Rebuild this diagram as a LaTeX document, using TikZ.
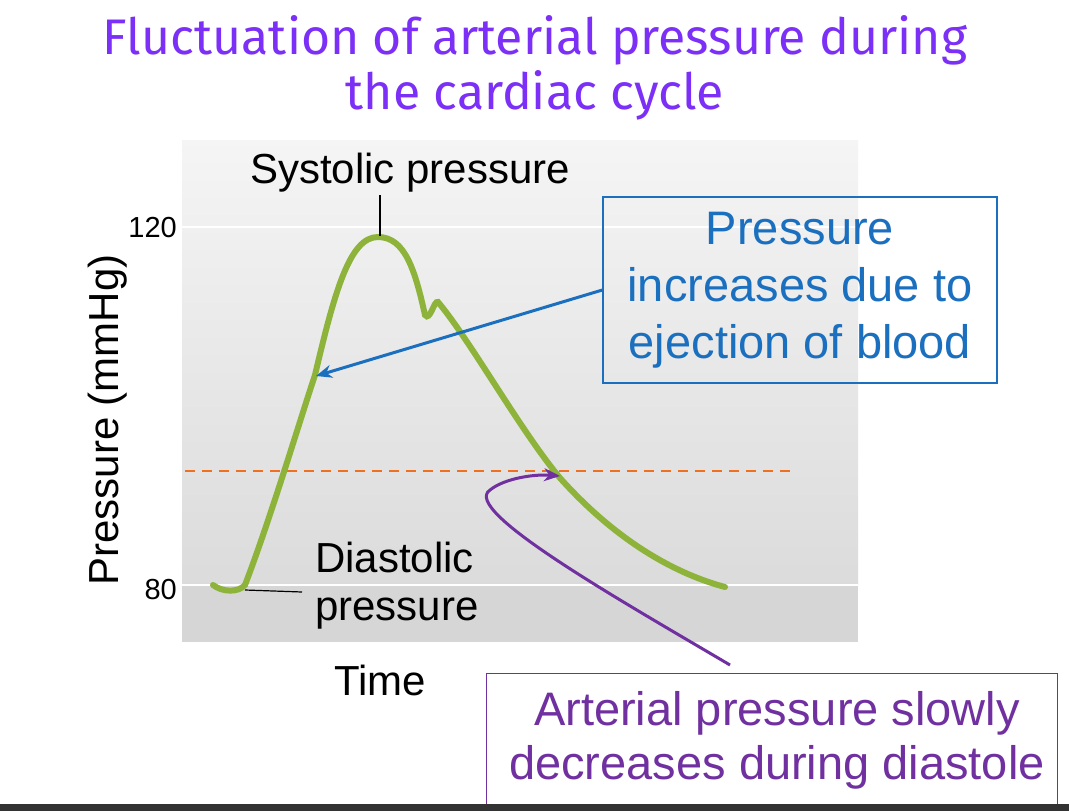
\documentclass[tikz,border=0pt]{standalone}
\usepackage{fontspec}
\setmainfont{Liberation Sans}
\newfontfamily\titlefont{Fira Sans}
\usetikzlibrary{arrows.meta}
\definecolor{ttl}{HTML}{7B2FF7}
\definecolor{grn}{HTML}{8DB33A}
\definecolor{blu}{HTML}{1A6FBF}
\definecolor{prp}{HTML}{7030A0}
\definecolor{org}{HTML}{F07020}
\tikzset{lbl/.style={font=\fontsize{42}{48}\selectfont,inner sep=0pt},
 big/.style={font=\fontsize{47}{57}\selectfont,align=center,inner sep=0pt}}
\begin{document}
\begin{tikzpicture}[x=1pt,y=-1pt]
\useasboundingbox (0,0) rectangle (1069,811);
\fill[white] (0,0) rectangle (1069,811);
\node[inner sep=0pt,font=\titlefont\fontsize{50}{55}\selectfont,text=ttl,align=center] (title) at (535,68) {Fluctuation of arterial pressure during\\the cardiac cycle};
\shade[top color=gray!8,bottom color=gray!28] (182,140) rectangle (858,585);
\fill[gray!32] (182,585) rectangle (858,642);
\draw[white,line width=2.5pt] (182,227) -- (858,227) (182,585) -- (858,585);
\draw[org,line width=2.5pt,dash pattern=on 10pt off 7pt] (185,471) -- (790,471);
\draw[grn,line width=6pt,line cap=round] (213,585) .. controls (222,592) and (238,593) .. (245,585)
 .. controls (270,520) and (300,420) .. (315,375)
 .. controls (335,290) and (350,237) .. (378,237)
 .. controls (405,237) and (415,270) .. (425,315)
 .. controls (430,322) and (434,300) .. (438,302)
 .. controls (470,340) and (520,430) .. (560,478)
 .. controls (620,545) and (680,575) .. (725,587);
\coordinate (pk) at (380,236);
\coordinate (pkl) at (380,195);
\draw[line width=1.2pt] (pk) -- (pkl);
\node[lbl] (sys) at (410,173) {Systolic pressure};
\coordinate (dm) at (245,590);
\coordinate (dl) at (302,592);
\draw[line width=1.2pt] (dm) -- (dl);
\node[lbl,align=left,font=\fontsize{42}{48}\selectfont,anchor=west] (dia) at (315,586) {Diastolic\\pressure};
\node[lbl,rotate=90] (yl) at (108,420) {Pressure (mmHg)};
\node[lbl,font=\fontsize{29}{32}\selectfont,anchor=east] (t120) at (177,228) {120};
\node[lbl,font=\fontsize{29}{32}\selectfont,anchor=east] (t80) at (177,590) {80};
\node[lbl] (time) at (380,680) {Time};
\node[draw=blu,line width=1.2pt,big,text=blu,minimum width=394pt,minimum height=186pt] (bb) at (800,290) {Pressure\\increases due to\\ejection of blood};
\coordinate (ba) at (316,376);
\draw[blu,line width=3pt,-{Stealth[length=16pt,width=13pt]}] (bb.west) -- (ba);
\node[draw=prp,line width=1.2pt,minimum width=571pt,minimum height=150pt,anchor=north west] (pb) at (486,673) {};
\node[big,text=prp,font=\fontsize{47}{54}\selectfont] (pt) at (777,740) {Arterial pressure slowly\\decreases during diastole};
\coordinate (ps) at (730,665);
\coordinate (pe) at (560,476);
\draw[prp,line width=3pt,-{Stealth[length=16pt,width=13pt]}] (ps) .. controls (620,600) and (460,510) .. (490,490) .. controls (505,478) and (535,474) .. (pe);
\fill[black!80] (0,804) rectangle (1069,811);
\end{tikzpicture}
\end{document}
